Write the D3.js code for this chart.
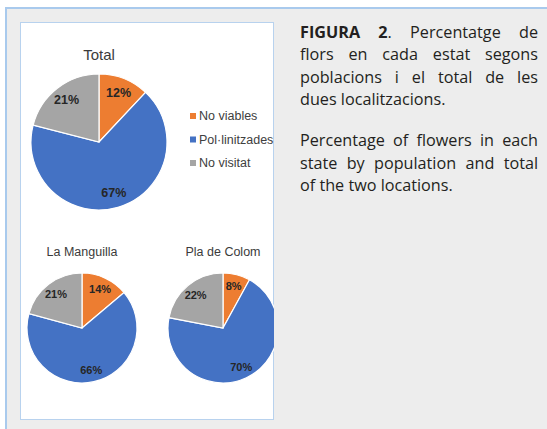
<!DOCTYPE html>
<meta charset="utf-8">
<style>
body {
  margin: 0;
  background-color: #ffffff;
  width: 547px;
  height: 429px;
  overflow: hidden;
  position: relative;
}
.box {
  position: absolute;
  left: 5px;
  top: 7px;
  right: 0;
  bottom: 0;
  background-color: #ededed;
  border-left: 2px solid #a9caed;
  border-top: 2px solid #a9caed;
}
#chart {
  position: absolute;
  left: 20px;
  top: 22px;
}
.caption {
  position: absolute;
  left: 300px;
  top: 20.5px;
  width: 238px;
  font-family: "Open Sans", sans-serif;
  font-size: 16.2px;
  color: #231f20;
  line-height: 22.5px;
}
.caption div {
  text-align: justify;
  text-align-last: justify;
  white-space: nowrap;
}
.caption div.last {
  text-align-last: left;
}
.caption .gap { height: 18.5px; }
</style>
<head>
<script src="https://d3js.org/d3.v7.min.js"></script>
</head>
<body>
  <div class="box"></div>
  <svg id="chart" width="254" height="398"></svg>
  <div class="caption">
    <div><b>FIGURA 2</b>. Percentatge de</div>
    <div>flors en cada estat segons</div>
    <div>poblacions i el total de les</div>
    <div class="last">dues localitzacions.</div>
    <div class="gap"></div>
    <div>Percentage of flowers in each</div>
    <div>state by population and total</div>
    <div class="last">of the two locations.</div>
  </div>

<script>
var states = ["No viables", "Pol·linitzades", "No visitat"];
var pieTitles = ["Total", "La Manguilla", "Pla de Colom"];
var totalValues = [12, 67, 21];
var manguillaValues = [14, 66, 21];
var colomValues = [8, 70, 22];

var colours = d3.scaleOrdinal()
  .domain(states)
  .range(["#ed7d31", "#4472c4", "#a5a5a5"]);

var svg = d3.select("#chart");

// panel (svg origin is at page 20,22)
svg.append("rect")
  .attr("x", 0.5).attr("y", 0.5)
  .attr("width", 253).attr("height", 397)
  .attr("fill", "#ffffff")
  .attr("stroke", "#b8d2ee");

var pie = d3.pie().sort(null).value(function(d) { return d; });

function drawPie(values, title, cx, cy, r, titleY, titleSize, labelSize) {
  var g = svg.append("g").attr("transform", "translate(" + cx + "," + cy + ")");
  var arc = d3.arc().innerRadius(0).outerRadius(r);
  var labelArc = d3.arc().innerRadius(r * 0.78).outerRadius(r * 0.78);
  var arcs = pie(values);

  g.selectAll(".slice")
    .data(arcs)
    .enter().append("path")
    .attr("class", "slice")
    .attr("d", arc)
    .attr("fill", function(d, i) { return colours(states[i]); })
    .attr("stroke", "#ffffff")
    .attr("stroke-width", 1.2);

  g.selectAll(".lbl")
    .data(arcs)
    .enter().append("text")
    .attr("class", "lbl")
    .attr("transform", function(d) { return "translate(" + labelArc.centroid(d) + ")"; })
    .attr("dy", "0.35em")
    .attr("text-anchor", "middle")
    .attr("font-family", "Liberation Sans, Arial, sans-serif")
    .attr("font-weight", "bold")
    .attr("font-size", labelSize)
    .attr("fill", "#262626")
    .text(function(d) { return d.data + "%"; });

  svg.append("text")
    .attr("x", cx)
    .attr("y", titleY)
    .attr("dy", "0.35em")
    .attr("text-anchor", "middle")
    .attr("font-family", "Liberation Sans, Arial, sans-serif")
    .attr("font-size", titleSize)
    .attr("fill", "#3b3b3b")
    .text(title);
}

drawPie(totalValues, pieTitles[0], 79, 120, 68, 33, 15, 12.5);
drawPie(manguillaValues, pieTitles[1], 62, 306, 55, 230, 12.5, 11);
drawPie(colomValues, pieTitles[2], 203, 306, 55, 230, 12.5, 11);

// legend
var legend = svg.append("g").attr("transform", "translate(170,94)");
var item = legend.selectAll(".item")
  .data(states)
  .enter().append("g")
  .attr("class", "item")
  .attr("transform", function(d, i) { return "translate(0," + (i * 23.5) + ")"; });

item.append("rect")
  .attr("x", 0).attr("y", -3)
  .attr("width", 6).attr("height", 6)
  .attr("fill", function(d) { return colours(d); });

item.append("text")
  .attr("x", 9)
  .attr("dy", "0.35em")
  .attr("font-family", "Liberation Sans, Arial, sans-serif")
  .attr("font-size", 12.5)
  .attr("fill", "#404040")
  .text(function(d) { return d; });
</script>
</body>
